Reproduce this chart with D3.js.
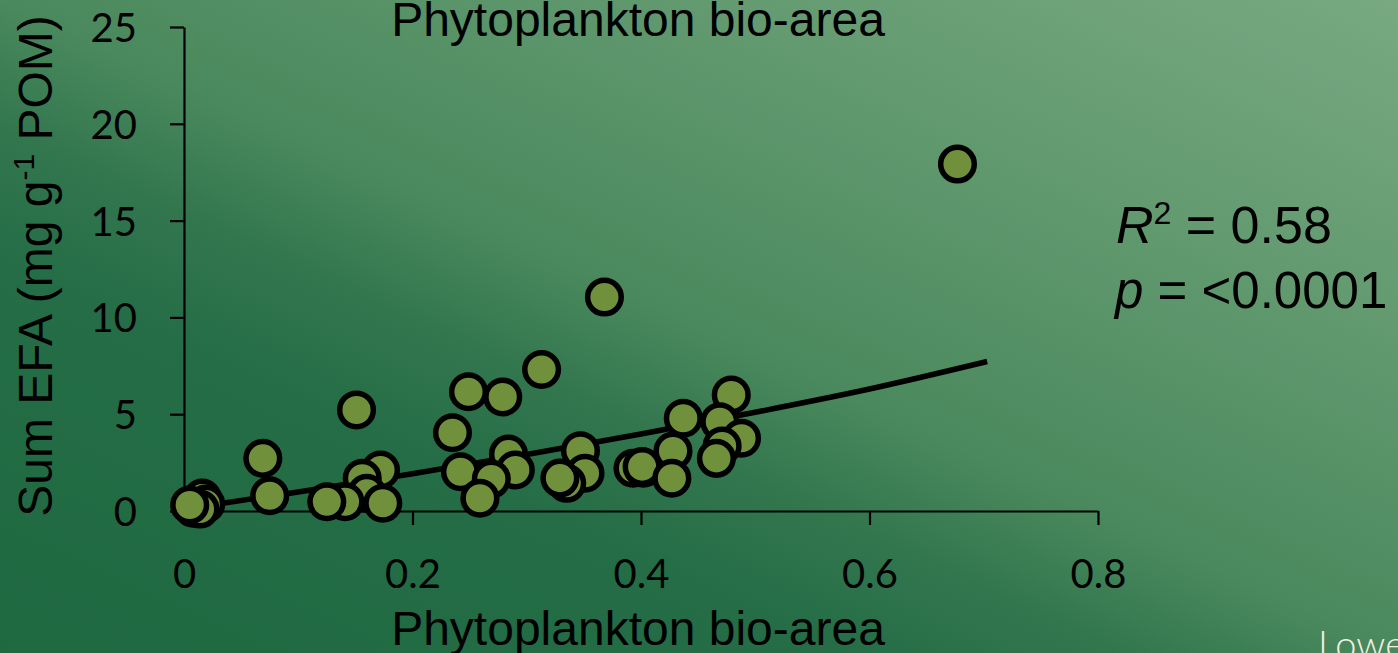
<!DOCTYPE html>
<html>
<head>
<meta charset="utf-8">
<script src="https://cdn.jsdelivr.net/npm/d3@7"></script>
<style>
  body { margin: 0; overflow: hidden; }
  svg { display: block; }
</style>
</head>
<body>
<div id="vis"></div>
<script>
// chart values
const xTicks = [0, 0.2, 0.4, 0.6, 0.8];
const yTicks = [0, 5, 10, 15, 20, 25];

const bioArea = [0.677, 0.368, 0.313, 0.249, 0.279, 0.479, 0.151, 0.437, 0.469, 0.235,
  0.069, 0.488, 0.471, 0.466, 0.428, 0.347, 0.284, 0.242, 0.290, 0.269,
  0.259, 0.351, 0.335, 0.329, 0.393, 0.402, 0.401, 0.427, 0.172, 0.156,
  0.160, 0.174, 0.141, 0.125, 0.075, 0.011, 0.016, 0.019, 0.008, 0.014, 0.005];
const sumEFA = [17.92, 11.05, 7.31, 6.16, 5.89, 5.99, 5.22, 4.79, 4.61, 4.04,
  2.72, 3.76, 3.36, 2.72, 3.10, 3.11, 2.94, 2.03, 2.12, 1.65,
  0.66, 1.95, 1.43, 1.70, 2.21, 2.21, 2.29, 1.69, 2.12, 1.69,
  0.91, 0.40, 0.48, 0.48, 0.79, 0.36, 0.67, 0.36, 0.15, 0.10, 0.31];

// fitted curve, read at a few places
const trendX = [0, 0.1, 0.2, 0.3, 0.4, 0.5, 0.6, 0.703];
const trendY = [0.1, 0.98, 1.92, 2.92, 3.98, 5.1, 6.3, 7.72];

const WIDTH = 1398;
const HEIGHT = 653;
const MARGINS = {left: 184, top: 27};
const PLOT_W = 914;
const PLOT_H = 484;

const svg = d3.select("#vis")
  .append("svg")
    .attr("width", WIDTH)
    .attr("height", HEIGHT);

// background
const defs = svg.append("defs");
const grad = defs.append("linearGradient")
  .attr("id", "bg")
  .attr("x1", 0).attr("y1", 1)
  .attr("x2", 1).attr("y2", 0);
[[0, "#1f6941"], [0.3, "#246d46"], [0.4, "#32764e"], [0.5, "#4a895d"],
 [0.75, "#639a70"], [1, "#78a981"]].forEach(s => {
  grad.append("stop").attr("offset", s[0]).attr("stop-color", s[1]);
});
svg.append("rect")
  .attr("width", WIDTH)
  .attr("height", HEIGHT)
  .attr("fill", "url(#bg)");

const xScale = d3.scaleLinear()
  .domain([0, 0.8])
  .range([MARGINS.left, MARGINS.left + PLOT_W]);

const yScale = d3.scaleLinear()
  .domain([0, 25])
  .range([MARGINS.top + PLOT_H, MARGINS.top]);

// axes
const xAxis = d3.axisBottom(xScale)
  .tickValues(xTicks)
  .tickFormat(d => d)
  .tickSize(14)
  .tickSizeOuter(0)
  .tickPadding(35);

const yAxis = d3.axisLeft(yScale)
  .tickValues(yTicks)
  .tickSize(14)
  .tickSizeOuter(0)
  .tickPadding(33);

const gx = svg.append("g")
  .attr("transform", `translate(0, ${MARGINS.top + PLOT_H})`)
  .call(xAxis);

const gy = svg.append("g")
  .attr("transform", `translate(${MARGINS.left}, 0)`)
  .call(yAxis);

[gx, gy].forEach(g => {
  g.selectAll("path, line").attr("stroke", "#000").attr("stroke-width", 2.2);
  g.selectAll("text")
    .attr("fill", "#000")
    .style("font-family", "Lato, 'Open Sans', sans-serif")
    .style("font-size", "40px");
});
gy.selectAll("text").attr("dy", "0.36em");

// trend line
const line = d3.line()
  .x(d => xScale(d[0]))
  .y(d => yScale(d[1]))
  .curve(d3.curveMonotoneX);

svg.append("path")
  .datum(trendX.map((x, i) => [x, trendY[i]]))
  .attr("d", line)
  .attr("fill", "none")
  .attr("stroke", "#000")
  .attr("stroke-width", 5.5);

// points
svg.selectAll(".dot")
  .data(bioArea.map((x, i) => [x, sumEFA[i]]))
  .enter()
  .append("circle")
    .attr("class", "dot")
    .attr("cx", d => xScale(d[0]))
    .attr("cy", d => yScale(d[1]))
    .attr("r", 16.8)
    .attr("fill", "#71903c")
    .attr("stroke", "#000")
    .attr("stroke-width", 5.5);

// titles
const titleFont = "'Liberation Sans', Arial, sans-serif";

svg.append("text")
  .attr("x", 638).attr("y", 36)
  .attr("text-anchor", "middle")
  .style("font-family", titleFont)
  .style("font-size", "48px")
  .text("Phytoplankton bio-area");

svg.append("text")
  .attr("x", 638).attr("y", 645)
  .attr("text-anchor", "middle")
  .style("font-family", titleFont)
  .style("font-size", "48px")
  .text("Phytoplankton bio-area");

const yTitle = svg.append("text")
  .attr("transform", "translate(52, 266) rotate(-90)")
  .attr("text-anchor", "middle")
  .style("font-family", titleFont)
  .style("font-size", "48px");
yTitle.append("tspan").text("Sum EFA (mg g");
yTitle.append("tspan").attr("dy", -18).style("font-size", "30px").text("-1");
yTitle.append("tspan").attr("dy", 18).text(" POM)");

// stats
const r2 = svg.append("text")
  .attr("x", 1116).attr("y", 243)
  .style("font-family", titleFont)
  .style("font-size", "52px");
r2.append("tspan").style("font-style", "italic").text("R");
r2.append("tspan").attr("dy", -19).style("font-size", "32px").text("2");
r2.append("tspan").attr("dy", 19).text(" = 0.58");

const pv = svg.append("text")
  .attr("x", 1115).attr("y", 308)
  .style("font-family", titleFont)
  .style("font-size", "51px");
pv.append("tspan").style("font-style", "italic").text("p");
pv.append("tspan").text(" = <0.0001");

svg.append("text")
  .attr("x", 1318).attr("y", 658)
  .attr("fill", "#f2f0e0")
  .style("font-family", "Lato, 'Open Sans', sans-serif")
  .style("font-weight", 300)
  .style("font-size", "38px")
  .text("Lower");
</script>
</body>
</html>
